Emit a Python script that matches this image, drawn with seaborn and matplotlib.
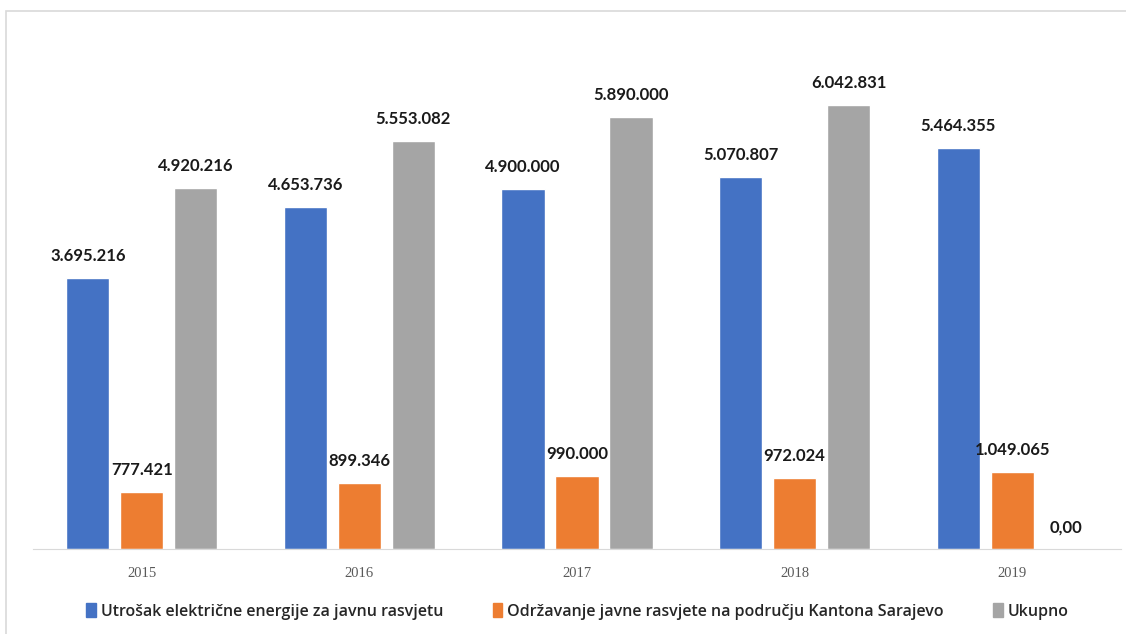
import pandas as pd
import matplotlib.pyplot as plt
import seaborn as sns
from matplotlib.patches import Rectangle

# Data
years = ['2015', '2016', '2017', '2018', '2019']
series_names = ['Utrošak električne energije za javnu rasvjetu',
                'Održavanje javne rasvjete na području Kantona Sarajevo',
                'Ukupno']
utrosak = [3695216, 4653736, 4900000, 5070807, 5464355]
odrzavanje = [777421, 899346, 990000, 972024, 1049065]
ukupno = [4920216, 5553082, 5890000, 6042831, 0]
colors = ['#4472C4', '#ED7D31', '#A5A5A5']

rows = []
for name, vals in zip(series_names, [utrosak, odrzavanje, ukupno]):
    for y, v in zip(years, vals):
        rows.append({'Godina': y, 'Serija': name, 'Iznos': v})
df = pd.DataFrame(rows)

sns.set_style('white')
fig = plt.figure(figsize=(11.26, 6.34), dpi=100)
ax = fig.add_axes([33 / 1126, 85 / 634, 1088 / 1126, 514 / 634])

sns.barplot(data=df, x='Godina', y='Iznos', hue='Serija', hue_order=series_names,
            palette=colors, width=0.744, gap=0.2, ax=ax, legend=False,
            saturation=1, errorbar=None)

ax.set_ylim(0, 7000000)
ax.set_xlim(-0.5, 4.5)
ax.set_xlabel('')
ax.set_ylabel('')
ax.set_yticks([])
for s in ['left', 'right', 'top']:
    ax.spines[s].set_visible(False)
ax.spines['bottom'].set_color('#D9D9D9')
ax.tick_params(axis='x', length=0, pad=13)
for lbl in ax.get_xticklabels():
    lbl.set_fontfamily('Liberation Serif')
    lbl.set_fontsize(10.5)
    lbl.set_color('#595959')


def fmt(v):
    if v == 0:
        return '0,00'
    return f'{v:,}'.replace(',', '.')


for cont, vals in zip(ax.containers, [utrosak, odrzavanje, ukupno]):
    ax.bar_label(cont, labels=[fmt(v) for v in vals], padding=10,
                 fontsize=12, fontweight='bold', fontfamily='Lato', color='#1a1a1a')

handles = [Rectangle((0, 0), 1, 1, color=c) for c in colors]
fig.legend(handles, series_names, loc='lower center', bbox_to_anchor=(0.513, 0.0),
           ncol=3, frameon=False, handlelength=0.6, handleheight=0.9,
           handletextpad=0.3, columnspacing=3.1,
           prop={'family': 'Open Sans', 'size': 11.5, 'weight': 'semibold'},
           labelcolor='#262626')

# light frame of the chart area
fig.patches.append(Rectangle((6 / 1126, -0.05), 1.1, (634 - 11) / 634 + 0.05,
                             transform=fig.transFigure, fill=False,
                             edgecolor='#D9D9D9', linewidth=1.2))

fig.savefig('out.png', dpi=100)
